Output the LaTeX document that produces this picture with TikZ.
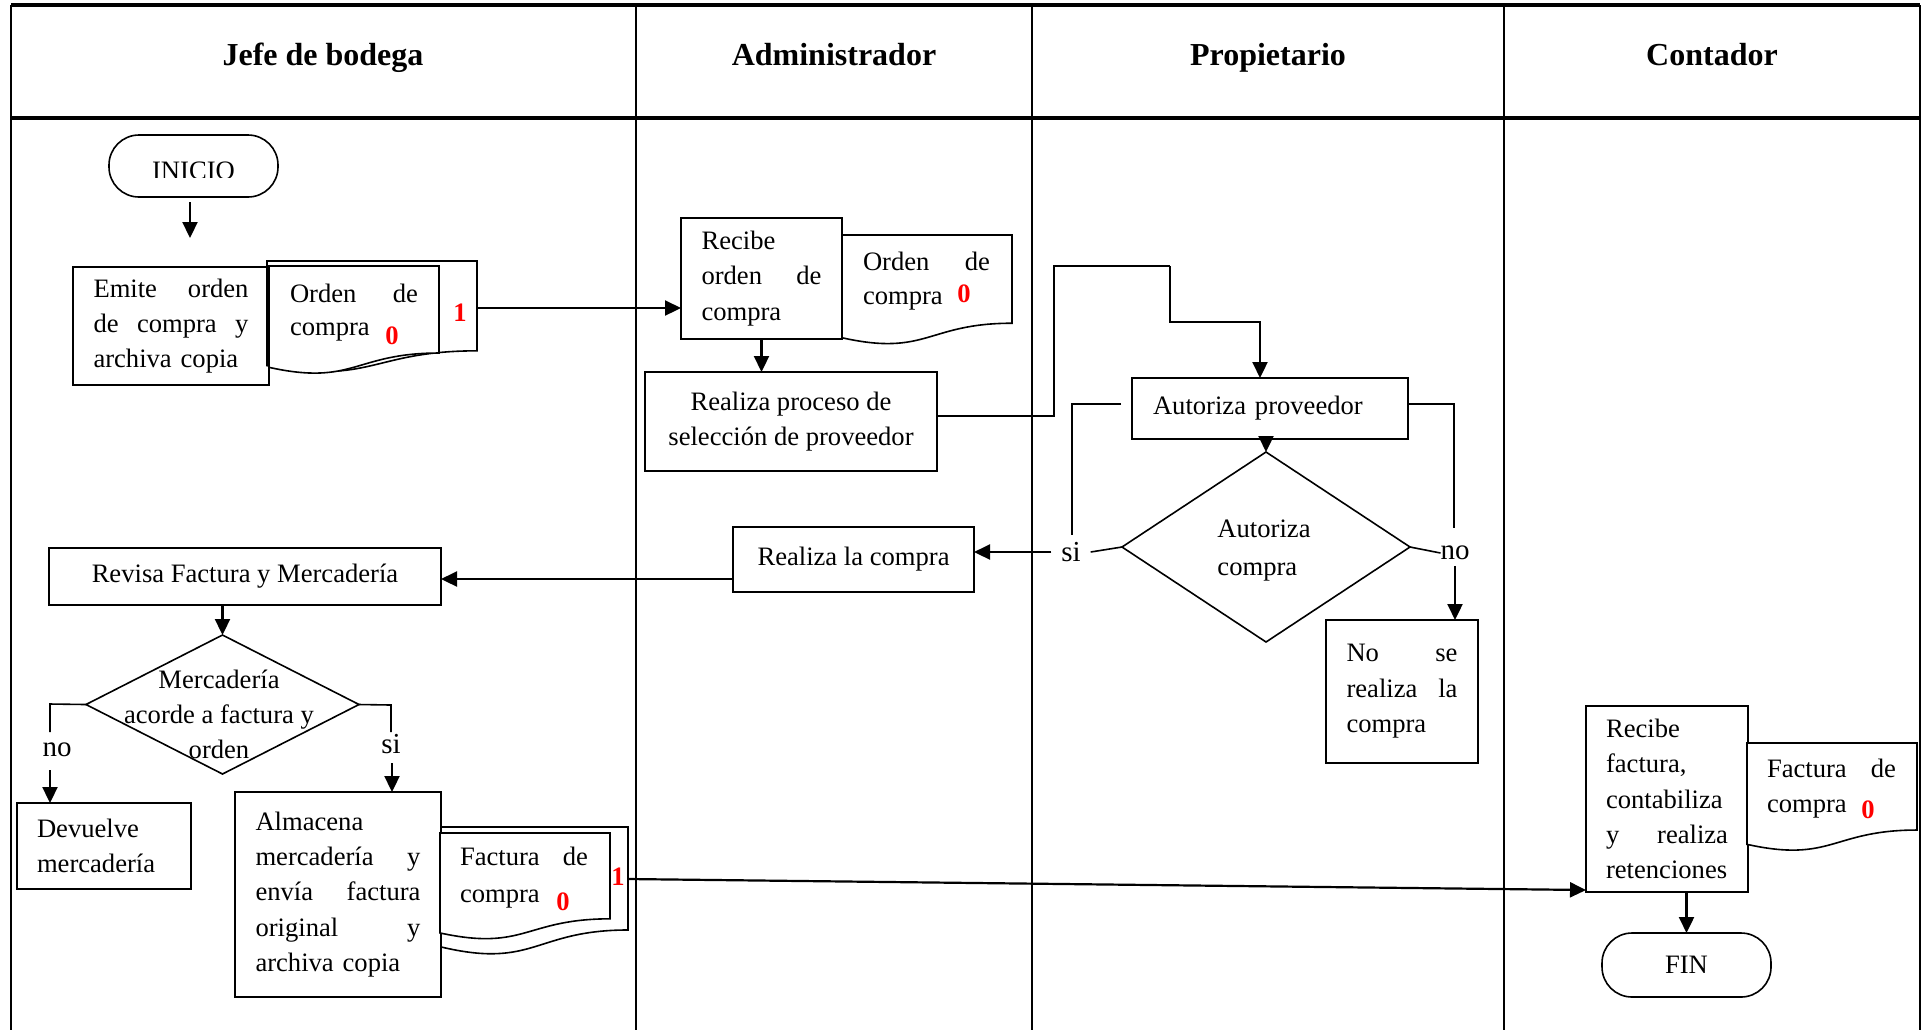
\documentclass[tikz,border=0pt]{standalone}
\usepackage{fontspec}
\setmainfont{Liberation Serif}
\usetikzlibrary{shapes.geometric,arrows.meta,calc}

% document symbol: left x, right x, top y, height, style
\newcommand\docshape[5]{%
  \draw[#5] (#1,#3) -- (#2,#3) -- (#2,{#3+0.802*#4})
    .. controls ({(#1+#2)/2},{#3+0.802*#4}) and ({(#1+#2)/2},{#3+1.107*#4}) .. (#1,{#3+0.934*#4}) -- cycle;}

\begin{document}
\begin{tikzpicture}[x=0.5pt,y=-0.5pt,
  every node/.style={inner sep=0pt, outer sep=0pt},
  body/.style={font=\fontsize{13.3}{17.7}\selectfont},
  proc/.style={draw, line width=0.8pt, fill=white, body},
  term/.style={draw, line width=0.8pt, rounded corners=15pt, fill=white, body},
  head/.style={font=\fontsize{16}{19}\selectfont\bfseries},
  redno/.style={font=\fontsize{13.3}{15}\selectfont\bfseries, text=red},
  lbl/.style={font=\fontsize{14.5}{17}\selectfont},
  arr/.style={line width=1.1pt, -{Triangle[length=8pt,width=7.5pt]}},
  conn/.style={line width=0.8pt},
  lane/.style={line width=1pt},
  rule/.style={line width=1.6pt},
  doc/.style={draw, line width=0.8pt, fill=white},
]
\useasboundingbox (0,0) rectangle (1925,1030);

% swimlane frame
\draw[rule] (11,5) -- (1920,5);
\draw[rule] (11,118) -- (1920,118);
\foreach \lx in {11,636,1032,1504,1920}
  \draw[lane] (\lx,5) -- (\lx,1030);

\node[head, anchor=base] (h1) at (323,65) {Jefe de bodega};
\node[head, anchor=base] (h2) at (834,65) {Administrador};
\node[head, anchor=base] (h3) at (1268,65) {Propietario};
\node[head, anchor=base] (h4) at (1712,65) {Contador};

% ---- Jefe de bodega: start and purchase order
\node[term, minimum width=84.5pt, minimum height=31pt] (ini) at (193.5,166) {};
\begin{scope}
  \clip (100,140) rectangle (290,177);
  \node[body, anchor=base] (initxt) at (193.5,179) {INICIO};
\end{scope}
\coordinate (a1s) at (190,202);
\coordinate (a1e) at (190,238);
\draw[arr] (a1s) -- (a1e);

\node[proc, minimum width=98pt, minimum height=59pt, text width=77.5pt, align=left] (em) at (171,326)
  {Emite\hfill orden\\de\hfill compra\hfill y\\archiva copia};

\docshape{267}{477}{261}{112}{doc}
\docshape{269}{439}{266}{108.5}{doc}
\node[body, anchor=base west, text width=64pt] (d1a) at (290,302) {Orden\hfill de};
\node[body, anchor=base west] (d1b) at (290,335) {compra};
\node[redno] (d1z) at (392,336) {0};
\node[redno] (d1o) at (460,313) {1};
\coordinate (d1r) at (477,308);

% ---- Administrador
\node[proc, minimum width=80.5pt, minimum height=60.5pt, text width=60pt, align=left] (rec) at (761.5,278.5)
  {Recibe\\orden\hfill de\\compra};
\draw[arr] (d1r) -- (d1r -| rec.west);

\docshape{842}{1012}{235}{110}{doc}
\node[body, anchor=base west, text width=63.5pt] (d2a) at (863,270) {Orden\hfill de};
\node[body, anchor=base west] (d2b) at (863,304) {compra};
\node[redno] (d2z) at (964,294) {0};

\node[proc, minimum width=146pt, minimum height=49.5pt, align=center] (rp) at (791,421.5)
  {Realiza proceso de\\selección de proveedor};
\draw[arr] (rec.south) -- (rec.south |- rp.north);

% ---- Propietario
\node[proc, minimum width=138pt, minimum height=30.5pt, text width=117pt, align=left] (ap) at (1270,408.5)
  {Autoriza proveedor};

\coordinate (c1) at (1054,416);
\coordinate (c2) at (1054,266);
\coordinate (c3) at (1170,266);
\coordinate (c4) at (1170,322);
\coordinate (c5) at (1260,322);
\draw[conn] (rp.east |- c1) -- (c1) -- (c2) -- (c3);
\draw[arr] (c3) -- (c4) -- (c5) -- (c5 |- ap.north);

\node[draw, diamond, line width=0.8pt, minimum width=144pt, minimum height=95pt] (dac) at (1266,547) {};
\node[font=\fontsize{13.3}{19}\selectfont, align=left] (dactxt) at (1264,551) {Autoriza\\compra};
\draw[arr] (ap.south -| dac.north) -- (dac.north);

\node[lbl, inner xsep=5pt] (si1) at (1071,552) {si};
\draw[conn] (dac.west) -- (si1.east);
\coordinate (c6) at (1121,404);
\coordinate (c7) at (1072,404);
\coordinate (c8) at (1072,535);
\draw[conn] (c6) -- (c7) -- (c8);

\node[lbl, inner ysep=3pt] (no1) at (1455,553) {no};
\draw[conn] (dac.east) -- (no1.west);
\coordinate (c9) at (1454,404);
\coordinate (c10) at (1454,528);
\draw[conn] (ap.east |- c9) -- (c9) -- (c10);

\node[proc, minimum width=76pt, minimum height=71.5pt, text width=55.5pt, align=left] (nose) at (1402,691.5)
  {No\hfill se\\realiza\hfill la\\compra};
\draw[arr] (no1.south) -- (no1.south |- nose.north);

% ---- purchase and goods check
\node[proc, minimum width=120.5pt, minimum height=32.5pt] (rlc) at (853.5,559.5) {Realiza la compra};
\draw[arr] (si1.west) -- (si1.west -| rlc.east);

\node[proc, minimum width=196pt, minimum height=28.5pt] (rv) at (245,576.5) {Revisa Factura y Mercadería};
\coordinate (c11) at ($(rlc.south west)+(0,-13)$);
\draw[arr] (c11) -- (c11 -| rv.east);

\node[draw, diamond, line width=0.8pt, minimum width=136.5pt, minimum height=69.5pt] (dm) at (222.5,704.5) {};
\node[font=\fontsize{13.3}{17.5}\selectfont, align=center] (dmtxt) at (219,714)
  {Mercadería\\acorde a factura y\\orden};
\draw[arr] (rv.south -| dm.north) -- (dm.north);

\node[proc, minimum width=87pt, minimum height=43pt, text width=67pt, align=left] (dv) at (104,846)
  {Devuelve\\mercadería};
\coordinate (c12) at (50,704);
\coordinate (c13) at (50,732);
\draw[conn] (dm.west) -- (c12) -- (c13);
\node[lbl] (no2) at (57,750) {no};
\coordinate (c14) at (50,770);
\draw[arr] (c14) -- (c14 |- dv.north);

\node[proc, minimum width=103pt, minimum height=102.5pt, text width=82.5pt, align=left] (alm) at (338,894.5)
  {Almacena\\mercadería\hfill y\\envía\hfill factura\\original\hfill y\\archiva copia};
\coordinate (c15) at (391,705);
\coordinate (c16) at (391,732);
\draw[conn] (dm.east) -- (c15) -- (c16);
\node[lbl] (si2) at (391,744) {si};
\coordinate (c17) at (392,763);
\draw[arr] (c17) -- (c17 |- alm.north);

\docshape{441}{628}{827}{128.4}{doc}
\docshape{440}{610}{833}{107}{doc}
\node[body, anchor=base west, text width=64pt] (d3a) at (460,865) {Factura\hfill de};
\node[body, anchor=base west] (d3b) at (460,902) {compra};
\node[redno] (d3z) at (563,902) {0};
\node[redno] (d3o) at (618,877) {1};
\coordinate (d3r) at (628,879);

% ---- Contador
\node[proc, minimum width=81pt, minimum height=93pt, text width=61pt, align=left] (cb) at (1667,799)
  {Recibe\\factura,\\contabiliza\\y\hfill realiza\\retenciones};
\draw[arr] (d3r) -- ($(cb.south west)+(0,-2)$);

\docshape{1747}{1917}{743}{108.5}{doc}
\node[body, anchor=base west, text width=64.5pt] (d4a) at (1767,777) {Factura\hfill de};
\node[body, anchor=base west] (d4b) at (1767,812) {compra};
\node[redno] (d4z) at (1868,810) {0};

\node[term, minimum width=84.5pt, minimum height=32pt] (fin) at (1686.5,965) {FIN};
\draw[arr] (cb.south -| fin.north) -- (fin.north);

\end{tikzpicture}
\end{document}
